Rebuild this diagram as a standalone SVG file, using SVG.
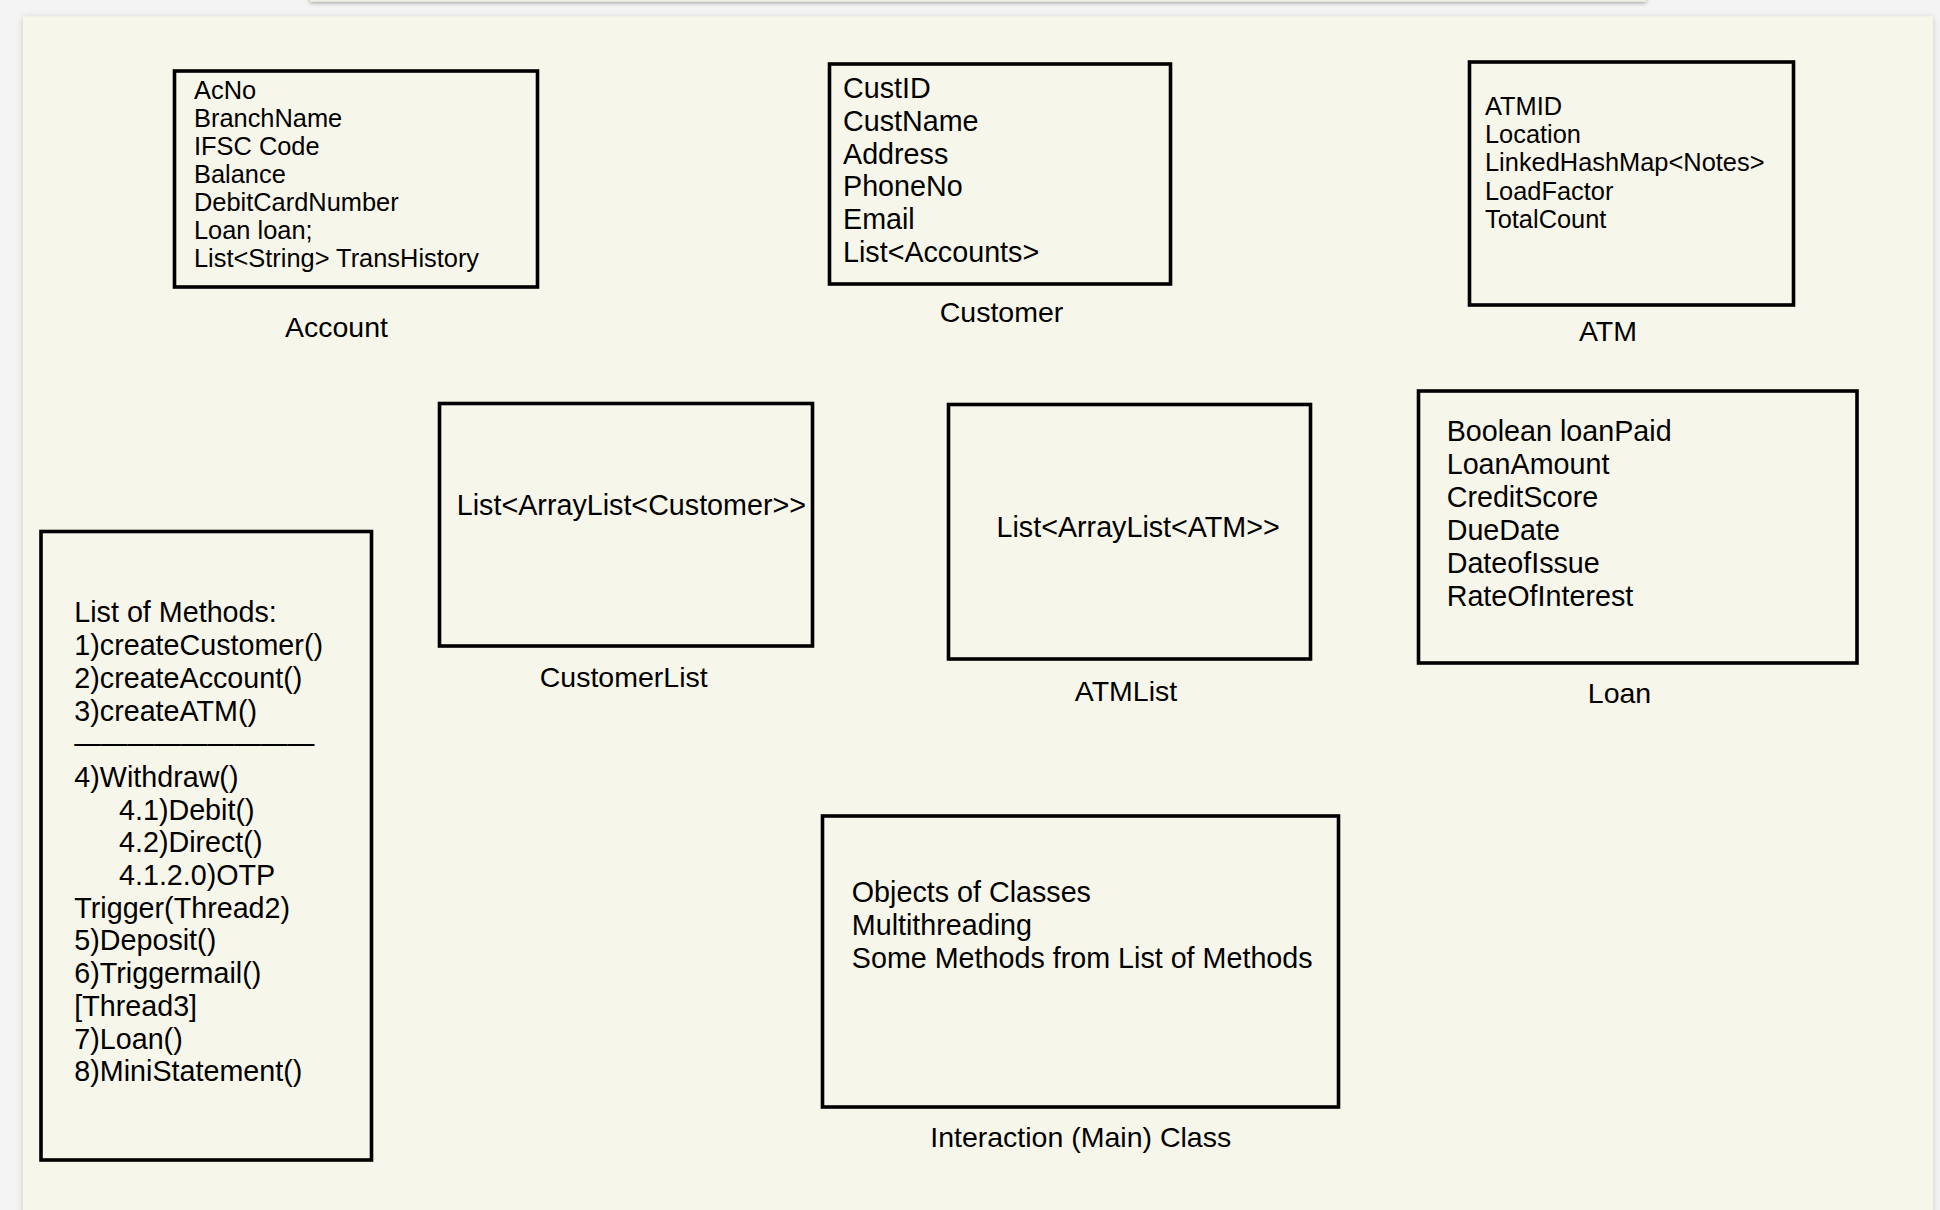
<svg xmlns="http://www.w3.org/2000/svg" width="1940" height="1210" viewBox="0 0 1940 1210">
<defs>
<filter id="sh" x="-5%" y="-5%" width="110%" height="110%">
<feDropShadow dx="0" dy="1" stdDeviation="3" flood-color="#000" flood-opacity="0.18"/>
</filter>
<filter id="sh2" x="-5%" y="-100%" width="110%" height="400%">
<feDropShadow dx="0" dy="1.5" stdDeviation="2" flood-color="#000" flood-opacity="0.35"/>
</filter>
<style>
.box{fill:none;stroke:#000;stroke-width:3.6;}
.t{font-family:"Liberation Sans",Arial,Helvetica,sans-serif;fill:#000;}
.big{font-size:28.7px;}
.small{font-size:25.4px;}
.lbl{font-size:28.5px;text-anchor:middle;}
</style>
</defs>
<rect x="0" y="0" width="1940" height="1210" fill="#f4f4f4"/>
<rect x="23" y="16.5" width="1910" height="1220" fill="#f7f6ea" filter="url(#sh)"/>
<rect x="310" y="-6" width="1336" height="7.5" fill="#efefe6" filter="url(#sh2)"/>

<g id="connectors"></g>

<g id="account">
<rect class="box" x="174.5" y="71" width="363" height="216"/>
<text class="t small" x="194" y="99.3">AcNo</text>
<text class="t small" x="194" y="127.3">BranchName</text>
<text class="t small" x="194" y="155.3">IFSC Code</text>
<text class="t small" x="194" y="183.2">Balance</text>
<text class="t small" x="194" y="211.2">DebitCardNumber</text>
<text class="t small" x="194" y="239.1">Loan loan;</text>
<text class="t small" x="194" y="267">List&lt;String&gt; TransHistory</text>
<text class="t lbl" x="336.5" y="337">Account</text>
</g>

<g id="customer">
<rect class="box" x="829.5" y="64" width="341" height="220"/>
<text class="t big" x="843" y="97.7">CustID</text>
<text class="t big" x="843" y="130.6">CustName</text>
<text class="t big" x="843" y="163.5">Address</text>
<text class="t big" x="843" y="196.4">PhoneNo</text>
<text class="t big" x="843" y="229.3">Email</text>
<text class="t big" x="843" y="262.3">List&lt;Accounts&gt;</text>
<text class="t lbl" x="1001.5" y="322">Customer</text>
</g>

<g id="atm">
<rect class="box" x="1469.5" y="62" width="324" height="243"/>
<text class="t small" x="1485" y="115">ATMID</text>
<text class="t small" x="1485" y="143.2">Location</text>
<text class="t small" x="1485" y="171.4">LinkedHashMap&lt;Notes&gt;</text>
<text class="t small" x="1485" y="199.6">LoadFactor</text>
<text class="t small" x="1485" y="227.8">TotalCount</text>
<text class="t lbl" x="1608" y="340.7">ATM</text>
</g>

<g id="methods">
<rect class="box" x="41" y="531.5" width="330.5" height="628.5"/>
<text class="t big" x="74.3" y="622.4">List of Methods:</text>
<text class="t big" x="74.3" y="655.1">1)createCustomer()</text>
<text class="t big" x="74.3" y="687.8">2)createAccount()</text>
<text class="t big" x="74.3" y="720.5">3)createATM()</text>
<text class="t big" x="74.3" y="753.2" textLength="240" lengthAdjust="spacingAndGlyphs">—————————</text>
<text class="t big" x="74.3" y="786.9">4)Withdraw()</text>
<text class="t big" x="119" y="819.6">4.1)Debit()</text>
<text class="t big" x="119" y="852.3">4.2)Direct()</text>
<text class="t big" x="119" y="885">4.1.2.0)OTP</text>
<text class="t big" x="74.3" y="917.7">Trigger(Thread2)</text>
<text class="t big" x="74.3" y="950.4">5)Deposit()</text>
<text class="t big" x="74.3" y="983.1">6)Triggermail()</text>
<text class="t big" x="74.3" y="1015.8">[Thread3]</text>
<text class="t big" x="74.3" y="1048.5">7)Loan()</text>
<text class="t big" x="74.3" y="1081.2">8)MiniStatement()</text>
</g>

<g id="customerlist">
<rect class="box" x="439.5" y="403.5" width="373" height="242.5"/>
<text class="t big" x="456.8" y="515">List&lt;ArrayList&lt;Customer&gt;&gt;</text>
<text class="t lbl" x="623.7" y="687.3">CustomerList</text>
</g>

<g id="atmlist">
<rect class="box" x="948.5" y="404.5" width="362" height="254.5"/>
<text class="t big" x="996.5" y="536.7">List&lt;ArrayList&lt;ATM&gt;&gt;</text>
<text class="t lbl" x="1126" y="700.7">ATMList</text>
</g>

<g id="loan">
<rect class="box" x="1418.5" y="391" width="438.5" height="272"/>
<text class="t big" x="1446.7" y="440.7">Boolean loanPaid</text>
<text class="t big" x="1446.7" y="473.7">LoanAmount</text>
<text class="t big" x="1446.7" y="506.7">CreditScore</text>
<text class="t big" x="1446.7" y="539.7">DueDate</text>
<text class="t big" x="1446.7" y="572.7">DateofIssue</text>
<text class="t big" x="1446.7" y="605.7">RateOfInterest</text>
<text class="t lbl" x="1619.5" y="703.3">Loan</text>
</g>

<g id="interaction">
<rect class="box" x="822.5" y="816" width="516" height="291"/>
<text class="t big" x="851.8" y="901.7">Objects of Classes</text>
<text class="t big" x="851.8" y="934.7">Multithreading</text>
<text class="t big" x="851.8" y="967.7">Some Methods from List of Methods</text>
<text class="t lbl" x="1080.7" y="1146.7">Interaction (Main) Class</text>
</g>
</svg>
